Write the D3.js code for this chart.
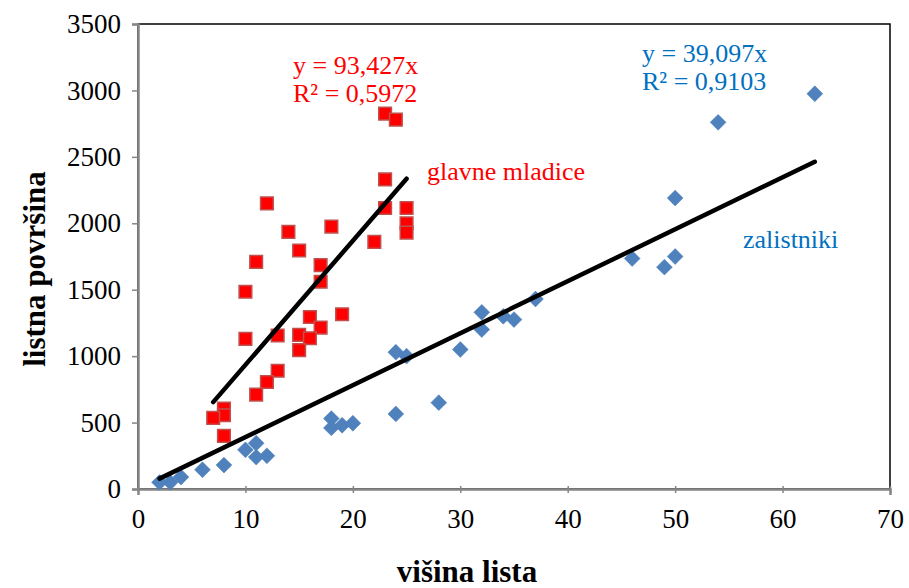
<!DOCTYPE html>
<html>
<head>
<meta charset="utf-8">
<script src="https://cdn.jsdelivr.net/npm/d3@7"></script>
<style>
    body { margin: 0; background: #fff; }
    svg text { font-family: "Liberation Serif", "Times New Roman", Times, serif; }
</style>
</head>
<body>
<svg id="chart" width="909" height="588"></svg>
<script>
// glavne mladice (red squares)
const mladiceX = [23, 24, 23, 23, 25, 25, 25, 22, 18, 12, 14, 15, 11, 10, 17, 17, 19, 16, 17, 13, 15, 16, 15, 10, 13, 12, 11, 8, 8, 7, 8];
const mladiceY = [2825, 2780, 2330, 2115, 2115, 2000, 1930, 1860, 1975, 2150, 1935, 1795, 1710, 1485, 1685, 1560, 1315, 1295, 1215, 1155, 1160, 1135, 1045, 1130, 890, 805, 710, 605, 555, 535, 400];

// zalistniki (blue diamonds)
const zalistX = [63, 54, 50, 46, 50, 49, 37, 32, 34, 35, 32, 30, 24, 25, 28, 24, 18, 18, 19, 20, 11, 10, 12, 11, 8, 6, 4, 3, 2];
const zalistY = [2975, 2760, 2190, 1735, 1750, 1670, 1430, 1330, 1300, 1275, 1200, 1050, 1030, 1000, 650, 565, 530, 460, 480, 495, 345, 295, 250, 240, 180, 145, 90, 50, 50];

// trend lines through origin
const slopes = [93.427, 39.097];
const trendRange = [[7, 25], [2, 63]];
const eqText = [['y = 93,427x', 'R² = 0,5972'], ['y = 39,097x', 'R² = 0,9103']];
const seriesNames = ['glavne mladice', 'zalistniki'];

const xTicks = [0, 10, 20, 30, 40, 50, 60, 70];
const yTicks = [0, 500, 1000, 1500, 2000, 2500, 3000, 3500];

const svg = d3.select('#chart');
const plotL = 138, plotR = 890, plotT = 24, plotB = 489;

const x = d3.scaleLinear().domain([0, 70]).range([plotL, plotR]);
const y = d3.scaleLinear().domain([0, 3500]).range([plotB, plotT]);

// outer frame (top/right)
svg.append('rect')
    .attr('x', plotL).attr('y', plotT)
    .attr('width', plotR - plotL).attr('height', plotB - plotT)
    .attr('fill', 'none').attr('stroke', '#000').attr('stroke-width', 1.5);

// axes
const xAxis = svg.append('g').attr('transform', `translate(0,${plotB})`)
    .call(d3.axisBottom(x).tickValues(xTicks).tickFormat(d3.format('d')).tickSize(6).tickPadding(14));
const yAxis = svg.append('g').attr('transform', `translate(${plotL},0)`)
    .call(d3.axisLeft(y).tickValues(yTicks).tickFormat(d3.format('d')).tickSize(6).tickPadding(11));

[xAxis, yAxis].forEach(a => {
    a.attr('font-size', 27).attr('font-family', '"Liberation Serif", serif');
    a.select('.domain').attr('stroke', '#868686').attr('stroke-width', 2.5);
    a.selectAll('.tick line').attr('stroke', '#868686').attr('stroke-width', 1.5);
    a.selectAll('.tick text').attr('fill', '#000');
});
xAxis.selectAll('.tick line').attr('y1', -3).attr('y2', 4);
yAxis.selectAll('.tick line').attr('x1', -6).attr('x2', 0);

// axis titles
svg.append('text')
    .attr('x', 467).attr('y', 582)
    .attr('text-anchor', 'middle')
    .style('font-size', '31px').style('font-weight', 'bold')
    .text('višina lista');

svg.append('text')
    .attr('transform', 'translate(45,269) rotate(-90)')
    .attr('text-anchor', 'middle')
    .style('font-size', '31px').style('font-weight', 'bold')
    .text('listna površina');

// blue diamonds
const zalist = zalistX.map((d, i) => ({x: d, y: zalistY[i]}));
svg.append('g').selectAll('path').data(zalist).enter().append('path')
    .attr('d', d3.symbol().type(d3.symbolSquare).size(125))
    .attr('transform', d => `translate(${x(d.x)},${y(d.y)}) rotate(45)`)
    .attr('fill', '#4F81BD')
    .attr('stroke', '#4A7EBB').attr('stroke-width', 0.5);

// red squares
const mladice = mladiceX.map((d, i) => ({x: d, y: mladiceY[i]}));
svg.append('g').selectAll('path').data(mladice).enter().append('path')
    .attr('d', d3.symbol().type(d3.symbolSquare).size(160))
    .attr('transform', d => `translate(${x(d.x)},${y(d.y)})`)
    .attr('fill', '#FF0000')
    .attr('stroke', '#C0504D').attr('stroke-width', 1.5);

// trend lines
const line = d3.line().x(d => x(d[0])).y(d => y(d[1]));
slopes.forEach((s, i) => {
    const pts = trendRange[i].map(v => [v, v * s]);
    svg.append('path')
        .attr('d', line(pts))
        .attr('stroke', '#000').attr('stroke-width', 4.5)
        .attr('stroke-linecap', 'round').attr('fill', 'none');
});

// equations and labels
const eqPos = [[293, 74, '#FF0000'], [642, 62, '#0070C0']];
eqText.forEach((lines, i) => {
    const t = svg.append('text')
        .attr('x', eqPos[i][0]).attr('y', eqPos[i][1])
        .attr('fill', eqPos[i][2])
        .style('font-size', '26px');
    lines.forEach((l, j) => {
        t.append('tspan').attr('x', eqPos[i][0]).attr('dy', j == 0 ? 0 : 28).text(l);
    });
});

svg.append('text')
    .attr('x', 427).attr('y', 180)
    .attr('fill', '#FF0000').style('font-size', '26px')
    .text(seriesNames[0]);

svg.append('text')
    .attr('x', 743).attr('y', 248)
    .attr('fill', '#0070C0').style('font-size', '26px')
    .text(seriesNames[1]);
</script>
</body>
</html>
